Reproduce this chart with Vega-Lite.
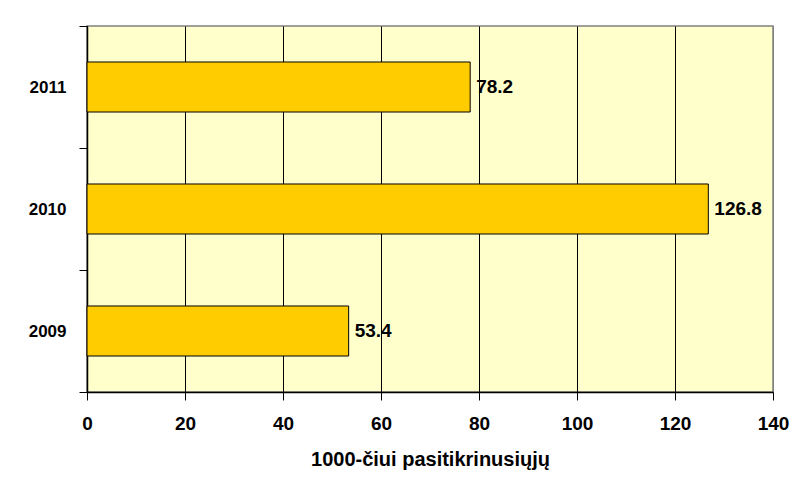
{
  "$schema": "https://vega.github.io/schema/vega-lite/v6.json",
  "autosize": {"type": "none"},
  "padding": {"left": 87, "top": 26, "right": 26, "bottom": 101},
  "width": 686,
  "height": 366,
  "background": "white",
  "config": {
    "font": "Liberation Sans",
    "view": {"fill": "#FFFFCC", "stroke": "#808080", "strokeWidth": 1.5},
    "axis": {
      "labelFont": "Liberation Sans",
      "labelFontWeight": "bold",
      "labelFontSize": 19,
      "labelColor": "black",
      "titleFont": "Liberation Sans",
      "titleFontWeight": "bold",
      "titleFontSize": 20,
      "titleColor": "black",
      "domainColor": "black",
      "domainWidth": 1.5,
      "tickColor": "black",
      "tickSize": 8,
      "tickWidth": 1
    }
  },
  "data": {
    "values": [
      {"year": "2011", "value": 78.2},
      {"year": "2010", "value": 126.8},
      {"year": "2009", "value": 53.4}
    ]
  },
  "encoding": {
    "y": {
      "field": "year",
      "type": "nominal",
      "sort": "descending",
      "scale": {"paddingInner": 0, "paddingOuter": 0},
      "axis": {
        "title": null,
        "tickBand": "extent",
        "labelPadding": 13,
        "labelFontSize": 17,
        "grid": false
      }
    },
    "x": {
      "field": "value",
      "type": "quantitative",
      "scale": {"domain": [0, 140], "nice": false},
      "axis": {
        "title": "1000-čiui pasitikrinusiųjų",
        "values": [0, 20, 40, 60, 80, 100, 120, 140],
        "grid": true,
        "gridColor": {"condition": {"test": "datum.value == 140", "value": "#808080"}, "value": "black"},
        "gridWidth": 1,
        "gridOpacity": 1,
        "labelPadding": 14,
        "titlePadding": 16,
        "labelFlush": false
      }
    }
  },
  "layer": [
    {
      "mark": {"type": "bar", "height": {"band": 0.41}, "fill": "#FFCC00", "stroke": "black", "strokeWidth": 1}
    },
    {
      "mark": {"type": "text", "align": "left", "baseline": "middle", "dx": 6, "font": "Liberation Sans", "fontWeight": "bold", "fontSize": 19, "color": "black"},
      "encoding": {"text": {"field": "value", "type": "quantitative", "format": ".1f"}}
    }
  ]
}
